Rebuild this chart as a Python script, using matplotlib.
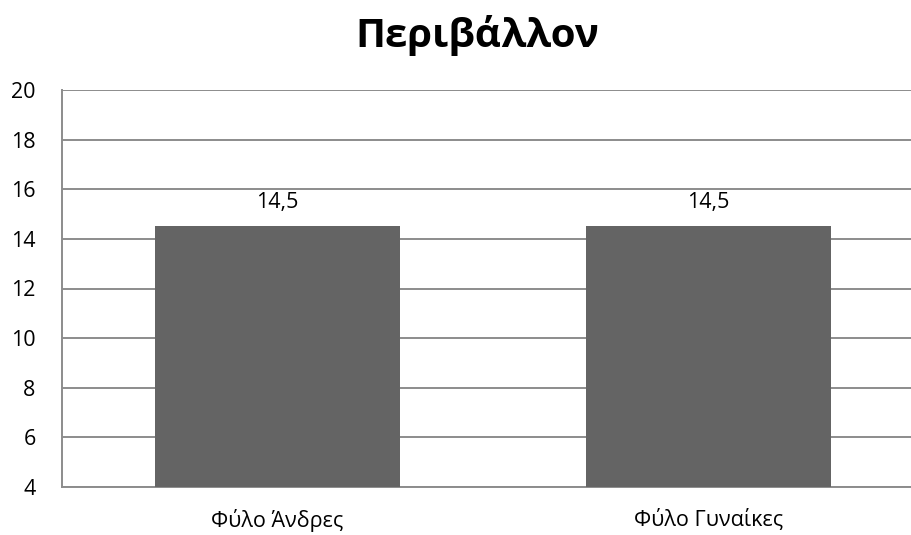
import matplotlib.pyplot as plt

categories = ['Φύλο Άνδρες', 'Φύλο Γυναίκες']
values = [14.5, 14.5]
yticks = [4, 6, 8, 10, 12, 14, 16, 18, 20]

plt.rcParams['font.family'] = ['Open Sans', 'DejaVu Sans']

fig = plt.figure(figsize=(9.12, 5.35), dpi=100)
ax = fig.add_axes([62 / 912, 48 / 535, 862 / 912, 397 / 535])

x = range(len(categories))
bars = ax.bar(x, values, width=0.57, color='#646464', zorder=3)
for b, v in zip(bars, values):
    ax.text(b.get_x() + b.get_width() / 2, v + 0.55, f'{v:.1f}'.replace('.', ','),
            ha='center', va='bottom', fontsize=15.5)

ax.set_xlim(-0.5, 1.5)
ax.set_ylim(4, 20)
ax.set_yticks(yticks)
ax.set_xticks(list(x))
ax.set_xticklabels(categories)
ax.tick_params(axis='both', length=0, labelsize=15.5)
ax.tick_params(axis='y', pad=19)
ax.tick_params(axis='x', pad=16)
ax.grid(axis='y', color='#8c8c8c', linewidth=1.4, zorder=0)
for s in ['top', 'right']:
    ax.spines[s].set_visible(False)
for s in ['left', 'bottom']:
    ax.spines[s].set_color('#8c8c8c')
    ax.spines[s].set_linewidth(1.4)

fig.text(0.523, 0.913, 'Περιβάλλον', ha='center', va='baseline',
         fontsize=29, fontweight='bold')

fig.savefig('out.png', dpi=100)
